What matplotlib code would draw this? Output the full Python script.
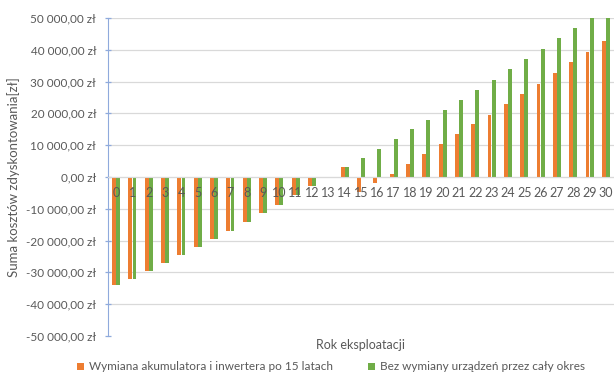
import numpy as np
import matplotlib
matplotlib.use("Agg")
import matplotlib.pyplot as plt
from matplotlib.ticker import FuncFormatter

# rok eksploatacji 0..30
years = list(range(31))

# suma kosztow zdyskontowanych [zl]
with_replacement = [-33960, -32070, -29650, -27150, -24620, -22100, -19400, -16880,
                    -14050, -11200, -8700, -5700, -2900, 0, 3000, -4800, -2000,
                    900, 4000, 7200, 10300, 13400, 16600, 19600, 22950, 26200,
                    29340, 32700, 36160, 39300, 42670]
no_replacement = [-33960, -32070, -29650, -27150, -24620, -22100, -19400, -16880,
                  -14050, -11200, -8700, -5700, -2900, 0, 3000, 5880, 8800,
                  11850, 15000, 17900, 21070, 24300, 27450, 30600, 33860, 37100,
                  40250, 43700, 46860, 50000, 53100]

series_names = ["Wymiana akumulatora i inwertera po 15 latach",
                "Bez wymiany urządzeń przez cały okres"]

plt.rcParams['font.family'] = ['Lato', 'DejaVu Sans']
txt = '#595959'
orange = '#ED7D31'
green = '#70AD47'
axis_blue = '#8FAADC'

fig = plt.figure(figsize=(6.14, 3.74), dpi=100)
ax = fig.add_axes([108/614, (374-336)/374, 1 - 108/614, (336-18)/374])

x = np.array(years)
w = 0.24
off = 0.125
ax.bar(x - off, with_replacement, w, color=orange, label=series_names[0], zorder=2)
ax.bar(x + off, no_replacement, w, color=green, label=series_names[1], zorder=2)

ax.set_xlim(-0.5, 30.5)
ax.set_ylim(-50000, 50000)
ax.set_yticks(np.arange(-50000, 50001, 10000))
for v in range(-40000, 50001, 10000):
    ax.axhline(v, color='#D9D9D9', lw=0.9, zorder=0)

def pln(v, pos):
    s = f"{abs(v):,.2f}".replace(",", " ").replace(".", ",")
    return ("-" if v < 0 else "") + s + " zł"

ax.yaxis.set_major_formatter(FuncFormatter(pln))
ax.tick_params(axis='y', colors=axis_blue, labelcolor=txt, labelsize=8.5,
               direction='inout', length=5, width=0.9, pad=6)

# os kategorii na poziomie zera
ax.spines['bottom'].set_position(('data', 0))
ax.spines['bottom'].set_color('#D9D9D9')
ax.spines['left'].set_color(axis_blue)
ax.spines['top'].set_visible(False)
ax.spines['right'].set_visible(False)
ax.set_xticks(x)
ax.set_xticklabels([str(y) for y in years])
ax.tick_params(axis='x', length=0, labelsize=9, labelcolor=txt, pad=7)
ax.xaxis.set_zorder(3)

ax.set_ylabel("Suma kosztów zdyskontowania[zł]", color=txt, fontsize=9.5)
ax.yaxis.set_label_coords((20 - 108) / (614 - 108), 0.5)
fig.text(361/614, (374-345)/374, "Rok eksploatacji", color=txt, fontsize=9,
         ha='center', va='center')

fig.legend(loc='center', bbox_to_anchor=(331/614, (374-367)/374), ncol=2, frameon=False,
           fontsize=8.5, labelcolor=txt, handlelength=0.6, handleheight=0.6,
           handletextpad=0.4, columnspacing=3.0)

fig.savefig("out.png", dpi=100)
